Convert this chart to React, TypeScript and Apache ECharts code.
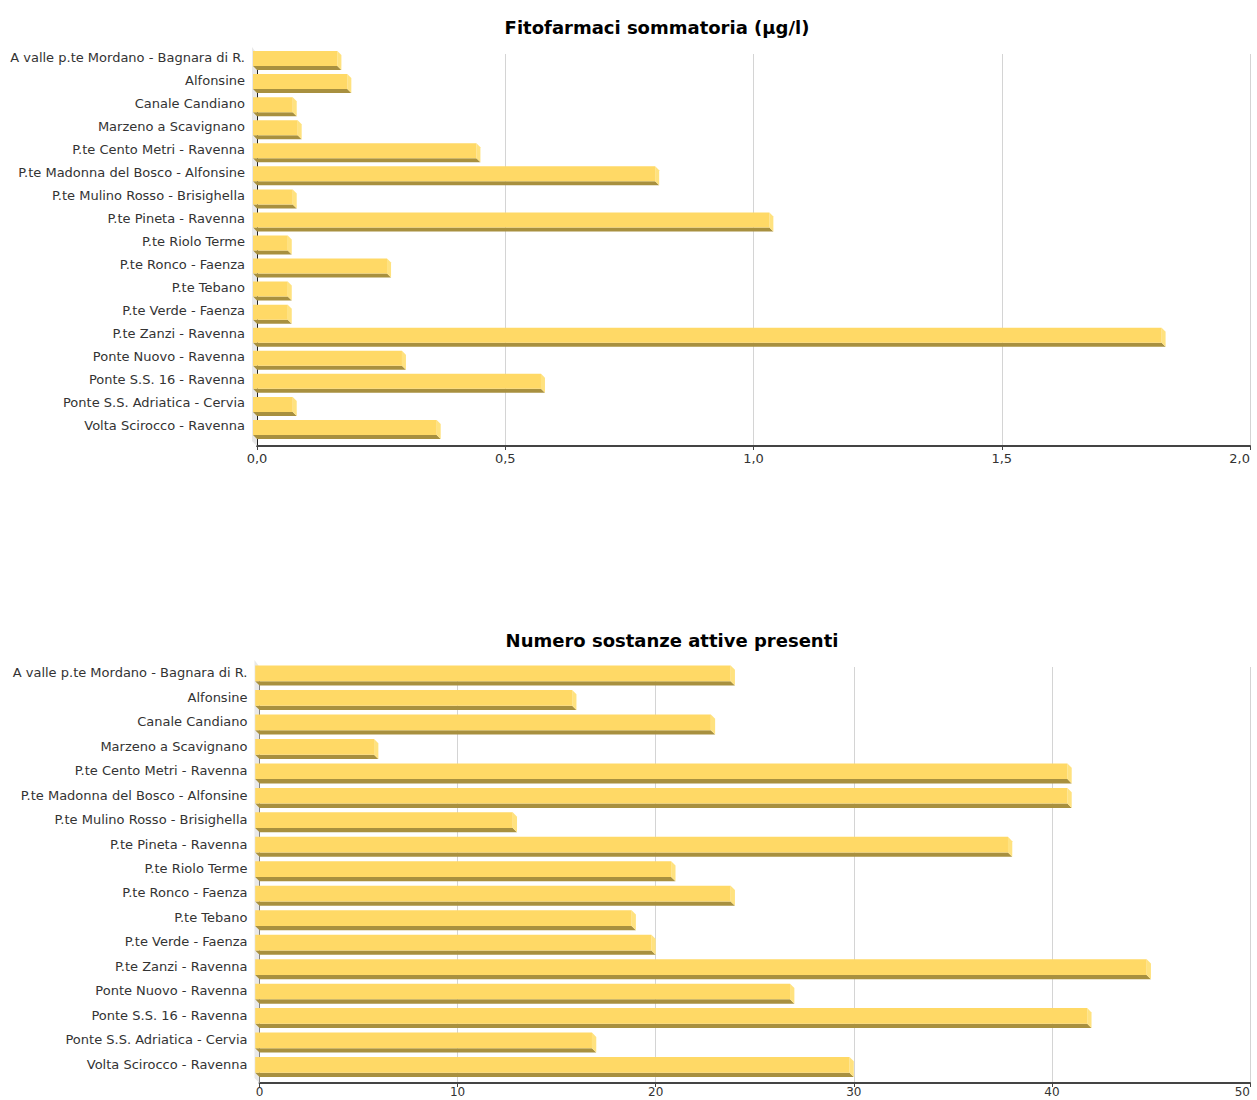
import React, { useEffect, useRef } from "react";
import * as echarts from "echarts";

const categories = [
  "A valle p.te Mordano - Bagnara di R.",
  "Alfonsine",
  "Canale Candiano",
  "Marzeno a Scavignano",
  "P.te Cento Metri - Ravenna",
  "P.te Madonna del Bosco - Alfonsine",
  "P.te Mulino Rosso - Brisighella",
  "P.te Pineta - Ravenna",
  "P.te Riolo Terme",
  "P.te Ronco - Faenza",
  "P.te Tebano",
  "P.te Verde - Faenza",
  "P.te Zanzi - Ravenna",
  "Ponte Nuovo - Ravenna",
  "Ponte S.S. 16 - Ravenna",
  "Ponte S.S. Adriatica - Cervia",
  "Volta Scirocco - Ravenna",
];

const fitofarmaci = [0.17, 0.19, 0.08, 0.09, 0.45, 0.81, 0.08, 1.04, 0.07, 0.27, 0.07, 0.07, 1.83, 0.3, 0.58, 0.08, 0.37];
const sostanze = [24, 16, 23, 6, 41, 41, 13, 38, 21, 24, 19, 20, 45, 27, 42, 17, 30];

const title1 = "Fitofarmaci sommatoria (μg/l)";
const title2 = "Numero sostanze attive presenti";

const FONT = "DejaVu Sans";
const FACE = "#FFD966";
const BOTTOM = "#A8903F";
const SIDE = "#FFE27F";

function bar3d(cfg: { top: number; bot: number; d: number }) {
  return (params: any, api: any) => {
    const v = api.value(0);
    const idx = api.value(1);
    const end = api.coord([v, idx]);
    const start = api.coord([0, idx]);
    const cy = end[1];
    const d = cfg.d;
    const x0 = start[0] - d;
    const x1 = end[0] - d;
    const yt = cy + cfg.top;
    const yb = cy + cfg.bot;
    return {
      type: "group",
      children: [
        {
          type: "polygon",
          shape: { points: [[x0, yb], [x1, yb], [x1 + d, yb + d], [x0 + d, yb + d]] },
          style: { fill: BOTTOM },
        },
        {
          type: "polygon",
          shape: { points: [[x1, yt], [x1 + d, yt + d], [x1 + d, yb + d], [x1, yb]] },
          style: { fill: SIDE },
        },
        {
          type: "rect",
          shape: { x: x0, y: yt, width: x1 - x0, height: yb - yt },
          style: { fill: FACE },
        },
      ],
    };
  };
}

function wall(d: number) {
  return (params: any) => {
    const cs = params.coordSys;
    const x = cs.x;
    const y = cs.y;
    const h = cs.height;
    return {
      type: "polygon",
      shape: { points: [[x - d, y - d - 2], [x, y], [x, y + h], [x - d, y + h - d]] },
      style: { fill: "#E8E8E8" },
    };
  };
}

function xAxisCfg(
  gridIndex: number,
  max: number,
  interval: number,
  fmt: (v: number) => string,
  fontSize: number,
  margin: number
) {
  return {
    type: "value",
    gridIndex,
    min: 0,
    max,
    interval,
    axisLine: { show: true, lineStyle: { color: "#444", width: 2 } },
    axisTick: { show: true, length: 4, lineStyle: { color: "#444" } },
    splitLine: { show: true, lineStyle: { color: "#D4D4D4", width: 1 } },
    axisLabel: {
      color: "#333",
      fontSize,
      lineHeight: fontSize,
      fontFamily: FONT,
      margin,
      formatter: fmt,
      alignMaxLabel: "right",
    },
  };
}

function yAxisCfg(gridIndex: number, lh: number) {
  return {
    type: "category",
    gridIndex,
    data: categories,
    inverse: true,
    axisLine: { show: true, lineStyle: { color: "#222", width: 1 } },
    axisTick: { show: false },
    splitLine: { show: false },
    axisLabel: {
      color: "#333",
      fontSize: 13,
      fontFamily: FONT,
      margin: 12,
      verticalAlign: "bottom",
      lineHeight: lh,
    },
  };
}

export default function App() {
  const ref = useRef<HTMLDivElement>(null);
  useEffect(() => {
    document.body.style.margin = "0";
    if (!ref.current) return;
    const chart = echarts.init(ref.current, null, { renderer: "svg" });
    const data1 = fitofarmaci.map((v, i) => [v, i]);
    const data2 = sostanze.map((v, i) => [v, i]);
    chart.setOption({
      animation: false,
      backgroundColor: "#fff",
      grid: [
        { left: 257, right: 7, top: 54, height: 392, outerBoundsMode: "none", containLabel: false },
        { left: 259.5, right: 7, top: 667, height: 416, outerBoundsMode: "none", containLabel: false },
      ],
      xAxis: [
        xAxisCfg(0, 2, 0.5, (v: number) => v.toFixed(1).replace(".", ","), 13, 6),
        xAxisCfg(1, 50, 10, (v: number) => String(v), 12, 3),
      ],
      yAxis: [yAxisCfg(0, 17), yAxisCfg(1, 13)],
      graphic: [
        {
          type: "text",
          x: 657,
          y: 27,
          style: {
            text: title1,
            fill: "#000",
            font: `bold 18px "${FONT}"`,
            textAlign: "center",
            textVerticalAlign: "middle",
          },
        },
        {
          type: "text",
          x: 672,
          y: 640,
          style: {
            text: title2,
            fill: "#000",
            font: `bold 18px "${FONT}"`,
            textAlign: "center",
            textVerticalAlign: "middle",
          },
        },
      ],
      series: [
        {
          type: "custom",
          xAxisIndex: 0,
          yAxisIndex: 0,
          data: [[0, 0]],
          renderItem: wall(5),
          z: 1,
          silent: true,
        },
        {
          type: "custom",
          xAxisIndex: 1,
          yAxisIndex: 1,
          data: [[0, 0]],
          renderItem: wall(5),
          z: 1,
          silent: true,
        },
        {
          type: "custom",
          name: title1,
          xAxisIndex: 0,
          yAxisIndex: 0,
          data: data1,
          encode: { x: 0, y: 1 },
          renderItem: bar3d({ top: -14.5, bot: 0.5, d: 4 }),
          z: 3,
        },
        {
          type: "custom",
          name: title2,
          xAxisIndex: 1,
          yAxisIndex: 1,
          data: data2,
          encode: { x: 0, y: 1 },
          renderItem: bar3d({ top: -13.7, bot: 2, d: 4.3 }),
          z: 3,
        },
      ],
    });
    return () => chart.dispose();
  }, []);
  return <div ref={ref} style={{ width: 1257, height: 1100 }} />;
}
